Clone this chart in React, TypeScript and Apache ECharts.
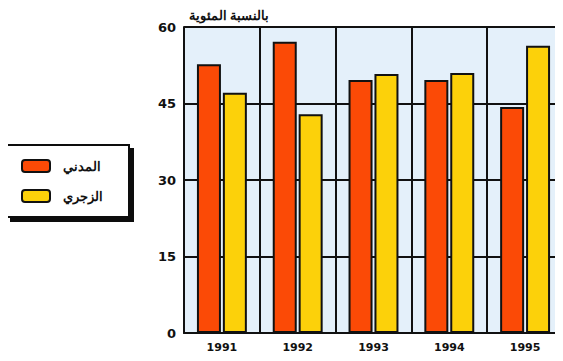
import React, { useEffect, useRef } from "react";
import * as echarts from "echarts";

const years = ["1991", "1992", "1993", "1994", "1995"];
const civil = [52.7, 57.1, 49.6, 49.6, 44.3];
const penal = [47.1, 42.9, 50.8, 51.0, 56.3];
const yTicks = [0, 15, 30, 45, 60];
const civilName = "المدني";
const penalName = "الزجري";
const unitTitle = "بالنسبة المئوية";

export default function App() {
  const ref = useRef<HTMLDivElement>(null);
  useEffect(() => {
    const chart = echarts.init(ref.current!, null, { renderer: "svg" });
    chart.setOption({
      animation: false,
      backgroundColor: "#ffffff",
      textStyle: { fontFamily: "DejaVu Sans" },
      title: {
        text: unitTitle,
        left: 184,
        top: 3,
        textStyle: { fontSize: 13, fontWeight: "bold", color: "#111", fontFamily: "Noto Sans" },
      },
      legend: {
        orient: "vertical",
        left: 7,
        top: 145,
        padding: [14, 26, 14, 14],
        itemGap: 16,
        itemWidth: 28,
        itemHeight: 12,
        icon: "roundRect",
        borderColor: "#111",
        borderWidth: 2,
        backgroundColor: "#fff",
        shadowColor: "#111",
        shadowBlur: 0,
        shadowOffsetX: 4,
        shadowOffsetY: 4,
        textStyle: { fontSize: 13, fontWeight: "bold", color: "#111", padding: [0, 0, 0, 8], fontFamily: "Noto Sans" },
        data: [civilName, penalName],
      },
      grid: {
        left: 184,
        top: 27,
        width: 381,
        height: 306,
        show: true,
        backgroundColor: "#e4f0fa",
        borderWidth: 0,
      },
      xAxis: {
        type: "category",
        data: years,
        axisLine: { lineStyle: { color: "#111", width: 2 } },
        axisTick: { show: false },
        axisLabel: { fontSize: 11, fontWeight: "bold", color: "#111", margin: 9 },
        splitLine: { show: true, lineStyle: { color: "#111", width: 2 } },
      },
      yAxis: {
        type: "value",
        min: yTicks[0],
        max: yTicks[yTicks.length - 1],
        interval: 15,
        axisLine: { show: true, lineStyle: { color: "#111", width: 2 } },
        axisTick: { show: false },
        axisLabel: { fontSize: 13, fontWeight: "bold", color: "#111", margin: 8 },
        splitLine: { show: true, lineStyle: { color: "#111", width: 2 } },
      },
      series: [
        {
          name: civilName,
          type: "bar",
          data: civil,
          barWidth: 24,
          barGap: "8%",
          itemStyle: { color: "#fb4a06", borderColor: "#111", borderWidth: 2 },
        },
        {
          name: penalName,
          type: "bar",
          data: penal,
          barWidth: 24,
          itemStyle: { color: "#fcd10a", borderColor: "#111", borderWidth: 2 },
        },
      ],
    });
    return () => chart.dispose();
  }, []);
  return <div ref={ref} style={{ width: 563, height: 361, marginLeft: -8, marginTop: -8 }} />;
}
